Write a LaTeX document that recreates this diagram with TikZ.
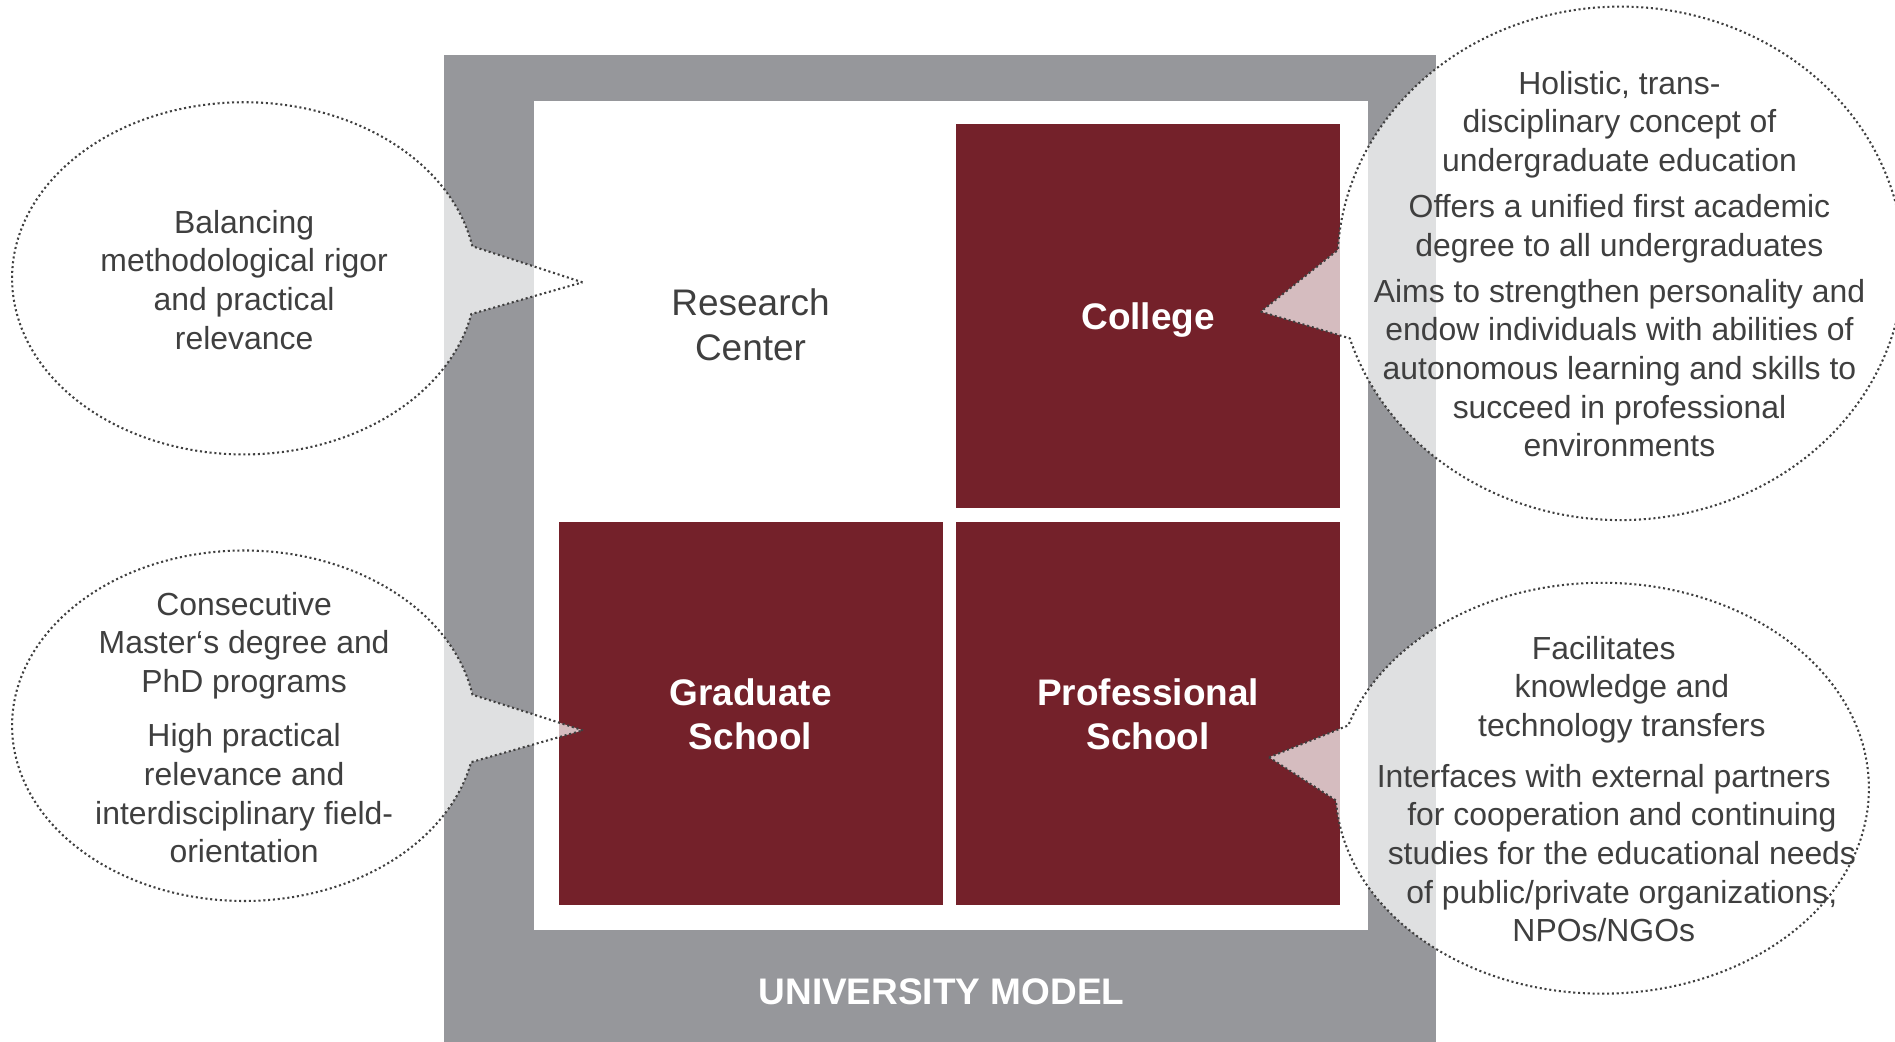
\documentclass[tikz,border=0pt]{standalone}
\usepackage{fontspec}
\setmainfont{Liberation Sans}
\usetikzlibrary{calc}
\definecolor{framegray}{HTML}{96979B}
\definecolor{wine}{HTML}{74212A}
\definecolor{ink}{HTML}{3F3F3F}
\begin{document}
\begin{tikzpicture}[x=0.5pt,y=-0.5pt,
  unitbox/.style={fill=wine},
  boxtext/.style={text=white, align=center, font=\fontsize{15.3}{18}\selectfont\bfseries},
  bubbletext/.style={text=ink, align=center, font=\fontsize{13.2}{16}\selectfont},
  bubble/.style={fill=white, fill opacity=0.7, draw=ink, draw opacity=1,
                 line width=0.85pt, dash pattern=on 0.85pt off 1.15pt}]
\useasboundingbox (0,0) rectangle (1568,862);

% frame
\fill[framegray] (367.5,45.6) rectangle (1188,862);
\fill[white] (441.8,83.5) rectangle (1131.6,769.8);

% units
\fill[unitbox] (791,102.6) rectangle (1108.6,420.3);
\fill[unitbox] (462.5,432.2) rectangle (780,749);
\fill[unitbox] (791,432.2) rectangle (1108.6,749);

\node[text=ink, align=center, font=\fontsize{15.3}{18.5}\selectfont] (rc) at (621,268.5) {Research\\Center};
\node[boxtext] (college) at (950,265) {College};
\node[boxtext] (grad) at (621,591) {Graduate\\School};
\node[boxtext] (prof) at (950,591) {Professional\\School};
\node[boxtext] (um) at (779,821) {UNIVERSITY MODEL};

% bubbles
\coordinate (c1) at (202,230.3);   \coordinate (tip1) at (482,233.6);
\coordinate (c2) at (202,600.5);   \coordinate (tip2) at (482.4,604.3);
\coordinate (c3) at (1340.9,217.9); \coordinate (tip3) at (1043.2,257.9);
\coordinate (c4) at (1325.7,652.2); \coordinate (tip4) at (1050,626.6);

\draw[bubble] (tip1) -- ($(c1)+(10.5:96pt and 72.85pt)$)
  arc[start angle=10.5, end angle=348.3, x radius=96pt, y radius=72.85pt] -- cycle;
\draw[bubble] (tip2) -- ($(c2)+(10.2:96pt and 72.5pt)$)
  arc[start angle=10.2, end angle=348, x radius=96pt, y radius=72.5pt] -- cycle;
\draw[bubble] (tip3) -- ($(c3)+(197:117.1pt and 106.2pt)$)
  arc[start angle=197, end angle=537, x radius=117.1pt, y radius=106.2pt] -- cycle;
\draw[bubble] (tip4) -- ($(c4)+(183.4:110.35pt and 85pt)$)
  arc[start angle=183.4, end angle=522.2, x radius=110.35pt, y radius=85pt] -- cycle;

\node[bubbletext] (t1) at (202,231.5) {Balancing\\methodological rigor\\and practical\\relevance};
\node[bubbletext] (t2) at (202,602) {Consecutive\\Master‘s degree and\\PhD programs\\[6.5pt]High practical\\relevance and\\interdisciplinary field-\\orientation};
\node[bubbletext] (t3) at (1340,218.5) {Holistic, trans-\\disciplinary concept of\\undergraduate education\\[3pt]Offers a unified first academic\\degree to all undergraduates\\[3pt]Aims to strengthen personality and\\endow individuals with abilities of\\autonomous learning and skills to\\succeed in professional\\environments};
\node[bubbletext] (t4) at (1342,653) {\hspace*{-15pt}Facilitates\\knowledge and\\technology transfers\\[5pt]\hspace*{-15pt}Interfaces with external partners\\for cooperation and continuing\\studies for the educational needs\\of public/private organizations,\\\hspace*{-15pt}NPOs/NGOs};
\end{tikzpicture}
\end{document}
